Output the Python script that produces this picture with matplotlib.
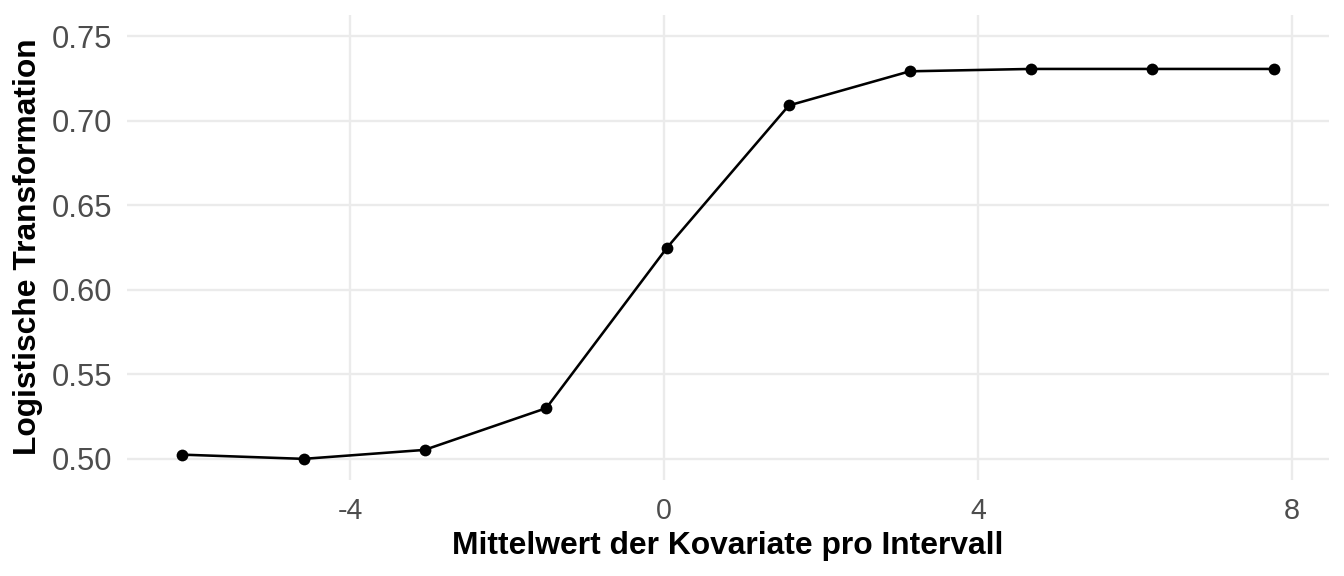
import matplotlib
matplotlib.use("Agg")
import matplotlib.pyplot as plt

# Data
x_means = [-6.14, -4.59, -3.05, -1.50, 0.04, 1.59, 3.13, 4.67, 6.22, 7.77]
logit_vals = [0.5025, 0.5000, 0.5053, 0.5300, 0.6250, 0.7090, 0.7292, 0.7306, 0.7306, 0.7306]
x_ticks = [-4, 0, 4, 8]
y_ticks = [0.50, 0.55, 0.60, 0.65, 0.70, 0.75]
x_label = "Mittelwert der Kovariate pro Intervall"
y_label = "Logistische Transformation"

plt.rcParams['font.family'] = ['Liberation Sans', 'DejaVu Sans']

W, H = 1344, 576
fig = plt.figure(figsize=(W / 100, H / 100), dpi=100)
left, right, top, bottom = 127, 1329, 15, 480
ax = fig.add_axes([left / W, (H - bottom) / H, (right - left) / W, (bottom - top) / H])

ax.plot(x_means, logit_vals, color='black', linewidth=1.85, zorder=3)
ax.scatter(x_means, logit_vals, color='black', s=72, zorder=4, linewidths=0)

ax.set_xlim(-6.84, 8.47)
ax.set_ylim(0.4875, 0.7625)
ax.set_xticks(x_ticks)
ax.set_xticklabels([str(t) for t in x_ticks])
ax.set_yticks(y_ticks)
ax.set_yticklabels([f"{t:.2f}" for t in y_ticks])

for s in ax.spines.values():
    s.set_visible(False)
ax.grid(True, color='#EBEBEB', linewidth=1.7, zorder=0)
ax.set_axisbelow(True)
ax.tick_params(axis='both', length=0, colors='#4D4D4D')
ax.tick_params(axis='y', labelsize=22.2, pad=10.4)
ax.tick_params(axis='x', labelsize=20.6, pad=12)

fig.text(727.5 / W, 21.7 / H, x_label, ha='center', va='baseline',
         fontsize=22.9, fontweight='bold', color='black')
fig.text(43.3 / W, (H - 246.5) / H, y_label, ha='right', va='center',
         rotation=90, fontsize=22.9, fontweight='bold', color='black')

fig.savefig("out.png", dpi=100, facecolor='white')
